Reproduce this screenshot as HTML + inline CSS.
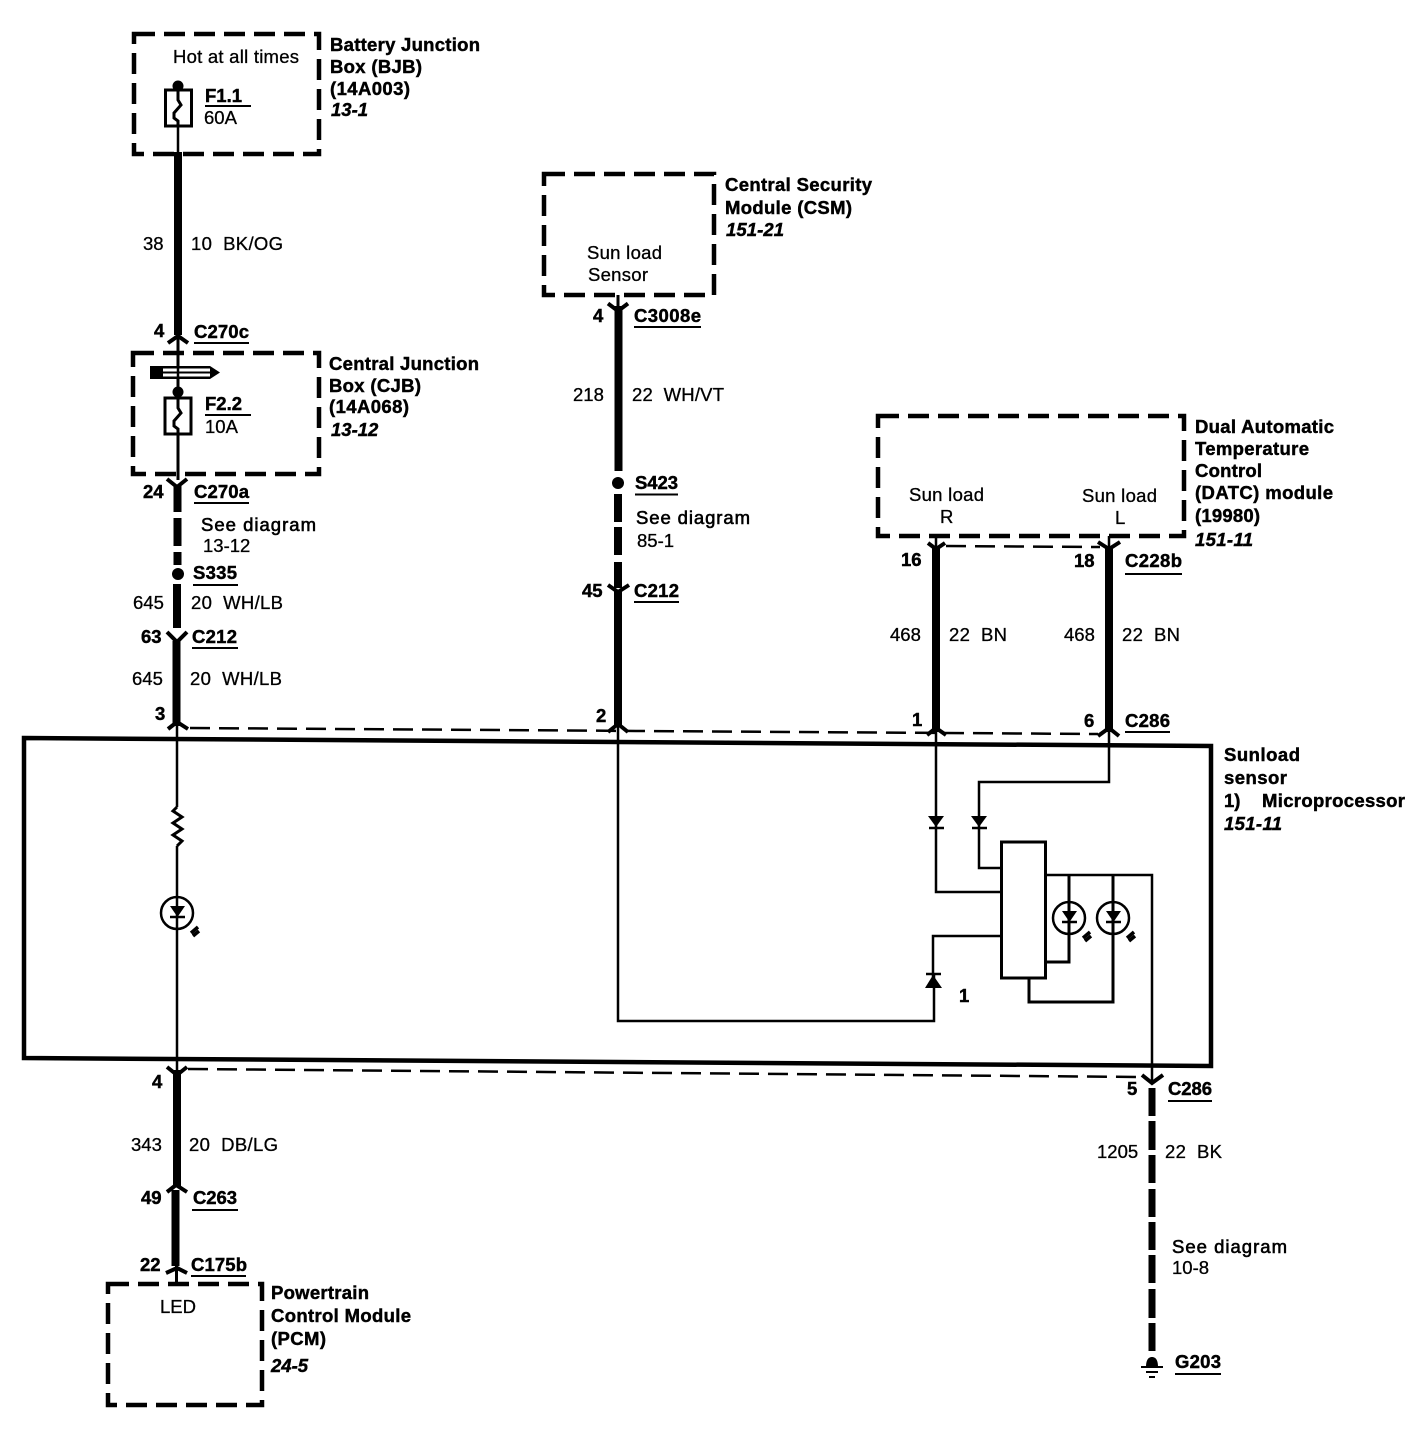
<!DOCTYPE html>
<html><head><meta charset="utf-8"><title>Sunload sensor wiring diagram</title>
<style>
html,body{margin:0;padding:0;background:#fff;width:1426px;height:1440px;overflow:hidden}
svg{display:block}
text{font-family:"Liberation Sans",sans-serif;font-size:18.5px;fill:#000;stroke:#000;stroke-width:.3}
.b{font-weight:bold;stroke-width:.45}
.i{font-weight:bold;font-style:italic;stroke-width:.45}
.box{fill:none;stroke:#000;stroke-width:4.5;stroke-dasharray:21 9}
.w{fill:none;stroke:#000;stroke-width:8}
.t{fill:none;stroke:#000;stroke-width:2.5}
.c{fill:none;stroke:#000;stroke-width:3}
.v{fill:none;stroke:#000;stroke-width:4}
.d{fill:none;stroke:#000;stroke-width:2.5;stroke-dasharray:20 9}
.u{stroke:#000;stroke-width:2}
.r{stroke:#000;stroke-width:3.5}
</style></head><body>
<svg width="1426" height="1440" viewBox="0 0 1426 1440" xmlns="http://www.w3.org/2000/svg">
<rect width="1426" height="1440" fill="#fff"/>

<!-- dashed module boxes -->
<rect class="box" x="134" y="34" width="185" height="120"/>
<rect class="box" x="133" y="353" width="186" height="121"/>
<rect class="box" x="544" y="174" width="170" height="121"/>
<rect class="box" x="878" y="416" width="306" height="120"/>
<rect class="box" x="108" y="1284" width="154" height="121"/>

<!-- main sensor box -->
<polygon points="24,738 1211,746 1211,1066 24,1058" fill="none" stroke="#000" stroke-width="4.5"/>

<!-- thin dashed connector lines -->
<path class="d" d="M190 728 L1098 734"/>
<path class="d" d="M188 1069 L1142 1077"/>
<path class="d" d="M946 546 L1100 547"/>

<!-- left column wires -->
<path class="t" d="M178 86V155"/>
<circle cx="178" cy="86" r="5.500"/>
<rect x="165.500" y="90" width="26" height="36" fill="#fff" stroke="#000" stroke-width="3"/>
<path class="c" d="M178 86V100L181 105 174 113 174 118 178 121V127"/>
<path class="w" d="M178 152V335"/>
<path class="v" d="M168 343L178 336 188 343"/>
<path class="c" d="M178 338V480"/>
<path d="M150 366H210L220 372.500 210 379H150Z"/>
<rect x="163" y="368.500" width="47" height="3" fill="#fff"/>
<rect x="163" y="373.500" width="47" height="3" fill="#fff"/>
<path class="t" d="M178 360V392"/>
<circle cx="178" cy="392" r="5.500"/>
<rect x="165" y="398" width="26" height="36" fill="#fff" stroke="#000" stroke-width="3"/>
<path class="c" d="M178 392V408L181 413 174 421 174 426 178 429V435"/>
<path class="v" d="M167 479L177 487 187 479"/>
<path class="w" d="M177.500 486V512M177.500 518V546M177.500 552V565"/>
<circle cx="178" cy="574" r="6"/>
<path class="w" d="M177 584V628"/>
<path class="v" d="M167 632L177 642 187 632"/>
<path class="w" d="M176.500 641V726"/>
<path class="v" d="M168 729L177 722 188 729"/>
<path class="t" d="M177 726V807M177 846V1070"/>
<path class="c" d="M177 807L173 811 182 817 173 823 182 829 173 835 182 841 177 846"/>
<circle cx="177" cy="913" r="16" fill="#fff" stroke="#000" stroke-width="2.500"/>
<path class="t" d="M177 897V930"/>
<path d="M170 906H185L177.500 917Z"/>
<path d="M170 917H185" stroke="#000" stroke-width="2.500"/>
<path class="r" d="M191 933L198 927M193 936L199 931"/>
<path class="v" d="M167 1067L177 1075 187 1067"/>
<path class="w" d="M177 1070V1186"/>
<path class="v" d="M167 1192L176 1185 187 1192"/>
<path class="w" d="M175.500 1190V1266"/>
<path class="v" d="M166 1273L177 1268 187 1273"/>
<path class="c" d="M176.500 1266V1286"/>

<!-- middle column -->
<path class="v" d="M608 303.500L618 311 628 303.500"/>
<path class="c" d="M618 295V311"/>
<path class="w" d="M618.500 306V471"/>
<circle cx="618" cy="483" r="6"/>
<path class="w" d="M618 494V522M618 527V555M618 562V588"/>
<path class="v" d="M608 585L618 592 629 585"/>
<path class="w" d="M618 590V725"/>
<path class="v" d="M608 732L618 724 628 732"/>
<path class="t" d="M618 726V1021H934V975"/>

<!-- right column -->
<path class="t" d="M936 536V548M1109 536V548"/>
<path class="v" d="M928 543L936 549 945 543"/>
<path class="v" d="M1098 542L1109 549 1120 542"/>
<path class="w" d="M936 546V732"/>
<path class="w" d="M1109 546V732"/>
<path class="v" d="M927 735L936 728 946 735"/>
<path class="v" d="M1098 736L1109 728 1119 736"/>
<path class="t" d="M936 730V892H1001"/>
<path class="t" d="M1109 730V782H979V868H1001"/>
<path d="M928 816H944L936 827Z"/><path d="M929 828H944" stroke="#000" stroke-width="2.500"/>
<path d="M971 816H987L979 827Z"/><path d="M972 828H987" stroke="#000" stroke-width="2.500"/>
<path d="M925 988H942L933 975Z"/><path d="M926 974H941" stroke="#000" stroke-width="2.500"/>
<path class="t" d="M1001 936H933V980"/>
<rect x="1001.500" y="842" width="44" height="136" fill="#fff" stroke="#000" stroke-width="3"/>
<path class="t" d="M1045 875H1152V1082"/>
<path class="c" d="M1069 875V962H1045"/>
<path class="c" d="M1113 875V1002H1029V978"/>
<circle cx="1069" cy="918" r="16" fill="none" stroke="#000" stroke-width="2.500"/>
<circle cx="1113" cy="918" r="16" fill="none" stroke="#000" stroke-width="2.500"/>
<path d="M1062 911H1077L1069.500 922Z"/><path d="M1062 922H1077" stroke="#000" stroke-width="2.500"/>
<path d="M1106 911H1121L1113.500 922Z"/><path d="M1106 922H1121" stroke="#000" stroke-width="2.500"/>
<path class="r" d="M1083 938L1090 932M1085 941L1091 936M1127 938L1134 932M1129 941L1135 936"/>
<path class="v" d="M1142 1075L1152 1083 1163 1075"/>
<path d="M1152 1088V1116M1152 1121V1150M1152 1155V1183M1152 1189V1217M1152 1222V1250M1152 1255V1283M1152 1289V1318M1152 1323V1351" stroke="#000" stroke-width="7" fill="none"/>
<path d="M1146 1367C1146 1359 1149 1357 1152 1357 1155 1357 1158 1359 1158 1367Z"/>
<path d="M1141 1367H1163M1146 1372H1158M1149 1377H1155" stroke="#000" stroke-width="2"/>

<!-- underlines -->
<path class="u" d="M205 106H251M194 343H249M205 415H251M194 503H249M193 585H238M192 648H238M192 1210H238M191 1276H246M634 327H701M635 494.500H678M634 602H679M1125 574H1182M1125 732H1170M1168 1101H1212M1175 1374H1221"/>

<!-- labels -->
<text class="b" x="330" y="51" textLength="150">Battery Junction</text>
<text class="b" x="330" y="73" textLength="92">Box (BJB)</text>
<text class="b" x="330" y="95" textLength="80">(14A003)</text>
<text class="i" x="331" y="116">13-1</text>
<text x="173" y="63" textLength="126">Hot at all times</text>
<text class="b" x="205" y="102">F1.1</text>
<text x="204" y="124">60A</text>
<text x="143" y="250">38</text>
<text x="191" y="250" xml:space="preserve" textLength="92">10  BK/OG</text>
<text class="b" x="154" y="337">4</text>
<text class="b" x="194" y="338" textLength="55">C270c</text>

<text class="b" x="329" y="370" textLength="150">Central Junction</text>
<text class="b" x="329" y="392" textLength="92">Box (CJB)</text>
<text class="b" x="329" y="413" textLength="80">(14A068)</text>
<text class="i" x="331" y="436">13-12</text>
<text class="b" x="205" y="410">F2.2</text>
<text x="205" y="433">10A</text>
<text class="b" x="143" y="498">24</text>
<text class="b" x="194" y="498" textLength="55">C270a</text>
<text x="201" y="531" style="stroke-width:.6" textLength="115">See diagram</text>
<text x="203" y="552">13-12</text>
<text class="b" x="193" y="579" textLength="44">S335</text>
<text x="133" y="609">645</text>
<text x="191" y="609" xml:space="preserve" textLength="92">20  WH/LB</text>
<text class="b" x="141" y="643">63</text>
<text class="b" x="192" y="643" textLength="45">C212</text>
<text x="132" y="685">645</text>
<text x="190" y="685" xml:space="preserve" textLength="92">20  WH/LB</text>
<text class="b" x="155" y="720">3</text>
<text class="b" x="152" y="1088">4</text>
<text x="131" y="1151">343</text>
<text x="189" y="1151" xml:space="preserve" textLength="89">20  DB/LG</text>
<text class="b" x="141" y="1204">49</text>
<text class="b" x="193" y="1204" textLength="44">C263</text>
<text class="b" x="140" y="1271">22</text>
<text class="b" x="191" y="1271" textLength="56">C175b</text>
<text x="160" y="1313">LED</text>
<text class="b" x="271" y="1299" textLength="98">Powertrain</text>
<text class="b" x="271" y="1322" textLength="140">Control Module</text>
<text class="b" x="271" y="1345" textLength="55">(PCM)</text>
<text class="i" x="271" y="1372">24-5</text>

<text class="b" x="725" y="191" textLength="147">Central Security</text>
<text class="b" x="725" y="214" textLength="127">Module (CSM)</text>
<text class="i" x="726" y="236" textLength="58">151-21</text>
<text x="587" y="259" textLength="75">Sun load</text>
<text x="588" y="281" textLength="60">Sensor</text>
<text class="b" x="593" y="322">4</text>
<text class="b" x="634" y="322" textLength="67">C3008e</text>
<text x="573" y="401">218</text>
<text x="632" y="401" xml:space="preserve" textLength="92">22  WH/VT</text>
<text class="b" x="635" y="489" textLength="43">S423</text>
<text x="636" y="524" style="stroke-width:.6" textLength="114">See diagram</text>
<text x="637" y="547">85-1</text>
<text class="b" x="582" y="597">45</text>
<text class="b" x="634" y="597" textLength="45">C212</text>
<text class="b" x="596" y="722">2</text>

<text class="b" x="1195" y="433" textLength="139">Dual Automatic</text>
<text class="b" x="1195" y="455" textLength="114">Temperature</text>
<text class="b" x="1195" y="477" textLength="67">Control</text>
<text class="b" x="1195" y="499" textLength="138">(DATC) module</text>
<text class="b" x="1195" y="522" textLength="65">(19980)</text>
<text class="i" x="1195" y="546" textLength="58">151-11</text>
<text x="909" y="501" textLength="75">Sun load</text>
<text x="940" y="523">R</text>
<text x="1082" y="502" textLength="75">Sun load</text>
<text x="1115" y="524">L</text>
<text class="b" x="901" y="566">16</text>
<text class="b" x="1074" y="567">18</text>
<text class="b" x="1125" y="567" textLength="57">C228b</text>
<text x="890" y="641">468</text>
<text x="949" y="641" xml:space="preserve" textLength="58">22  BN</text>
<text x="1064" y="641">468</text>
<text x="1122" y="641" xml:space="preserve" textLength="58">22  BN</text>
<text class="b" x="912" y="726">1</text>
<text class="b" x="1084" y="727">6</text>
<text class="b" x="1125" y="727" textLength="45">C286</text>

<text class="b" x="1224" y="761" textLength="76">Sunload</text>
<text class="b" x="1224" y="784" textLength="63">sensor</text>
<text class="b" x="1224" y="807">1)</text>
<text class="b" x="1262" y="807" textLength="143">Microprocessor</text>
<text class="i" x="1224" y="830" textLength="58">151-11</text>
<text class="b" x="959" y="1002">1</text>

<text class="b" x="1127" y="1095">5</text>
<text class="b" x="1168" y="1095" textLength="44">C286</text>
<text x="1097" y="1158">1205</text>
<text x="1165" y="1158" xml:space="preserve" textLength="57">22  BK</text>
<text x="1172" y="1253" style="stroke-width:.6" textLength="115">See diagram</text>
<text x="1172" y="1274">10-8</text>
<text class="b" x="1175" y="1368" textLength="46">G203</text>
</svg>
</body></html>
